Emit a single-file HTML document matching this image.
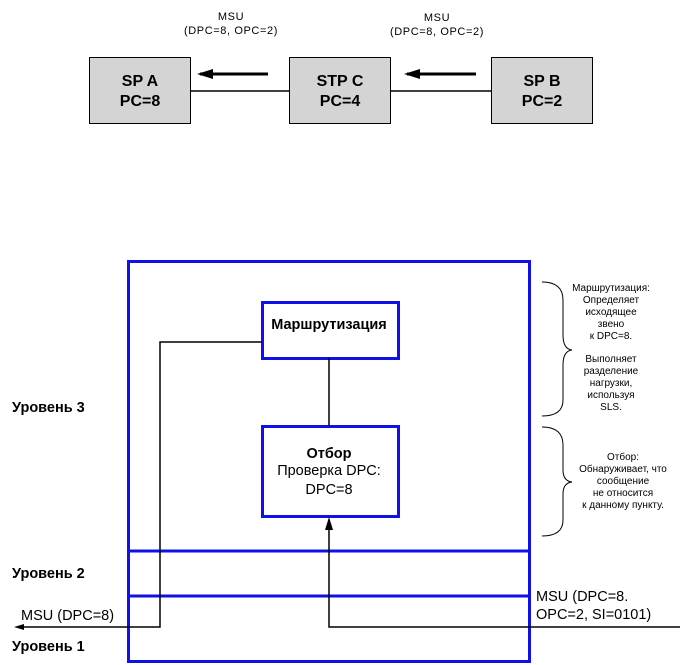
<!DOCTYPE html>
<html><head><meta charset="utf-8"><style>
html,body{margin:0;padding:0;background:#fff;}
svg{display:block;}
text{font-family:"Liberation Sans","DejaVu Sans",sans-serif;}
</style></head><body>
<svg width="680" height="665" viewBox="0 0 680 665" xmlns="http://www.w3.org/2000/svg">
<!-- top section -->
<g font-size="11" text-anchor="middle" letter-spacing="0.6">
<text x="231" y="20">MSU</text>
<text x="231" y="34">(DPC=8, OPC=2)</text>
<text x="437" y="21">MSU</text>
<text x="437" y="35">(DPC=8, OPC=2)</text>
</g>
<line x1="190" y1="91" x2="289" y2="91" stroke="#000" stroke-width="1.5"/>
<line x1="390" y1="91" x2="491" y2="91" stroke="#000" stroke-width="1.5"/>
<rect x="89.5" y="57.5" width="101" height="66" fill="#d4d4d4" stroke="#000"/>
<rect x="289.5" y="57.5" width="101" height="66" fill="#d4d4d4" stroke="#000"/>
<rect x="491.5" y="57.5" width="101" height="66" fill="#d4d4d4" stroke="#000"/>
<g font-size="16" font-weight="bold" text-anchor="middle">
<text x="140" y="86">SP A</text>
<text x="140" y="106">PC=8</text>
<text x="340" y="86">STP C</text>
<text x="340" y="106">PC=4</text>
<text x="542" y="86">SP B</text>
<text x="542" y="106">PC=2</text>
</g>
<line x1="268" y1="74" x2="200" y2="74" stroke="#000" stroke-width="3"/>
<path d="M197,74 L213,69 L213,79 Z" fill="#000"/>
<line x1="476" y1="74" x2="407" y2="74" stroke="#000" stroke-width="3"/>
<path d="M404,74 L420,69 L420,79 Z" fill="#000"/>

<!-- bottom section -->
<rect x="128.5" y="261.5" width="401" height="400" fill="none" stroke="#1010e8" stroke-width="3"/>
<line x1="128" y1="551" x2="530" y2="551" stroke="#1010e8" stroke-width="3"/>
<line x1="128" y1="596" x2="530" y2="596" stroke="#1010e8" stroke-width="3"/>
<rect x="262.5" y="302.5" width="136" height="56" fill="#fff" stroke="#1010e8" stroke-width="3"/>
<rect x="262.5" y="426.5" width="136" height="90" fill="#fff" stroke="#1010e8" stroke-width="3"/>
<text x="329" y="329" font-size="14.5" font-weight="bold" text-anchor="middle">Маршрутизация</text>
<text x="329" y="458" font-size="14.5" font-weight="bold" text-anchor="middle">Отбор</text>
<text x="329" y="475" font-size="14.5" text-anchor="middle">Проверка DPC:</text>
<text x="329" y="494" font-size="14.5" text-anchor="middle">DPC=8</text>
<!-- paths -->
<polyline points="680,627 329,627 329,520" fill="none" stroke="#000" stroke-width="1.5"/>
<path d="M329,517 L325,530 L333,530 Z" fill="#000"/>
<line x1="329" y1="426" x2="329" y2="358" stroke="#000" stroke-width="1.5"/>
<polyline points="262,342 160,342 160,627 20,627" fill="none" stroke="#000" stroke-width="1.5"/>
<path d="M14,627 L24,624 L24,630 Z" fill="#000"/>
<!-- labels -->
<g font-size="14.5" font-weight="bold">
<text x="12" y="412">Уровень 3</text>
<text x="12" y="578">Уровень 2</text>
<text x="12" y="651">Уровень 1</text>
</g>
<text x="21" y="620" font-size="14.5">MSU (DPC=8)</text>
<text x="536" y="601" font-size="14.5">MSU (DPC=8.</text>
<text x="536" y="619" font-size="14.5">OPC=2, SI=0101)</text>
<!-- braces -->
<path d="M542,282 Q563,282 563,300 L563,335 Q563,349 572,350 Q563,351 563,365 L563,400 Q563,416 542,416" fill="none" stroke="#000" stroke-width="1"/>
<path d="M542,427 Q563,427 563,445 L563,470 Q563,481 572,482 Q563,483 563,494 L563,520 Q563,536 542,536" fill="none" stroke="#000" stroke-width="1"/>
<g font-size="10" text-anchor="middle">
<text x="611" y="291">Маршрутизация:</text>
<text x="611" y="303">Определяет</text>
<text x="611" y="315">исходящее</text>
<text x="611" y="327">звено</text>
<text x="611" y="339">к DPC=8.</text>
<text x="611" y="362">Выполняет</text>
<text x="611" y="374">разделение</text>
<text x="611" y="386">нагрузки,</text>
<text x="611" y="398">используя</text>
<text x="611" y="410">SLS.</text>
<text x="623" y="460">Отбор:</text>
<text x="623" y="472">Обнаруживает, что</text>
<text x="623" y="484">сообщение</text>
<text x="623" y="496">не относится</text>
<text x="623" y="508">к данному пункту.</text>
</g>
</svg>
</body></html>
